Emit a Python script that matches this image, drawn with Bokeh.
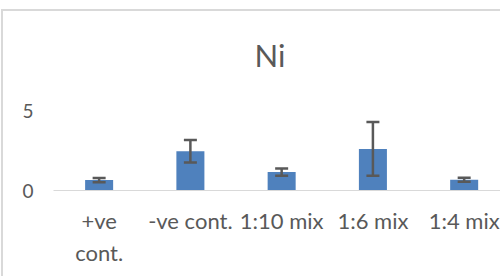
from bokeh.plotting import figure
from bokeh.models import Range1d, FixedTicker, ColumnDataSource, Whisker, Title
from bokeh.embed import file_html
from bokeh.resources import INLINE

categories = ["+ve\ncont.", "-ve cont.", "1:10 mix", "1:6 mix", "1:4 mix"]
values = [0.65, 2.45, 1.15, 2.6, 0.67]
errors = [0.13, 0.7, 0.23, 1.68, 0.12]
y_ticks = [0, 5]
title_text = "Ni"

xs = [i + 1 for i in range(len(categories))]
src = ColumnDataSource(dict(
    x=xs, top=values,
    upper=[v + e for v, e in zip(values, errors)],
    lower=[v - e for v, e in zip(values, errors)],
))

p = figure(width=499, height=267, output_backend="svg", toolbar_location=None,
           x_range=Range1d(0.5, 5.42), y_range=Range1d(0, 5),
           min_border_left=50, min_border_right=0, min_border_top=99, min_border_bottom=88)
p.styles = {"margin-left": "1px", "margin-top": "9px",
            "border-top": "2px solid #D9D9D9", "border-left": "2px solid #D9D9D9"}
p.outline_line_color = None
p.background_fill_color = "white"
p.border_fill_color = "white"

# small spacer between the plot area and the title
p.add_layout(Title(text=" ", text_font_size="1px", standoff=14, text_color="white"), "above")
p.add_layout(Title(text=title_text, align="left", offset=201, standoff=40,
                   text_font="Lato", text_font_size="31px", text_font_style="normal",
                   text_color="#595959"), "above")

p.vbar(x="x", top="top", width=0.307, source=src, fill_color="#4F81BD", line_color=None)
w = Whisker(base="x", upper="upper", lower="lower", source=src, line_color="#595959",
            line_width=2.5, level="overlay")
for h in (w.upper_head, w.lower_head):
    h.size = 13
    h.line_color = "#595959"
    h.line_width = 2.5
p.add_layout(w)

p.xgrid.grid_line_color = None
p.ygrid.grid_line_color = "#D9D9D9"
p.ygrid.grid_line_width = 1

p.yaxis.ticker = FixedTicker(ticks=y_ticks)
p.yaxis.axis_line_color = None
p.yaxis.major_tick_line_color = None
p.yaxis.minor_tick_line_color = None
p.yaxis.major_label_text_font = "Lato"
p.yaxis.major_label_text_font_size = "19px"
p.yaxis.major_label_text_color = "#595959"
p.yaxis.major_label_standoff = 14

p.xaxis.ticker = FixedTicker(ticks=xs)
p.xaxis.major_label_overrides = {x: c for x, c in zip(xs, categories)}
p.xaxis.axis_line_color = "#D9D9D9"
p.xaxis.major_tick_line_color = None
p.xaxis.minor_tick_line_color = None
p.xaxis.major_label_text_font = "Lato"
p.xaxis.major_label_text_font_size = "22px"
p.xaxis.major_label_text_color = "#595959"
p.xaxis.major_label_standoff = 10

open("out.html", "w").write(file_html(p, INLINE))
